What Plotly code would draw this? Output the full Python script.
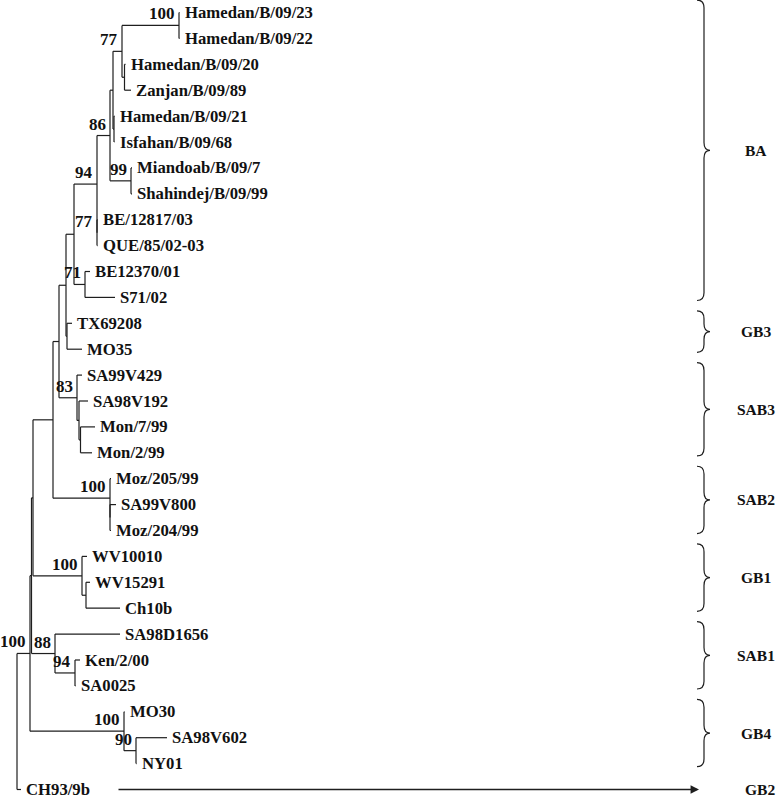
import plotly.graph_objects as go

# ---------------- data ----------------
node_ids = [
    "root", "n1", "n2", "n3", "n4", "n5", "n66", "nBA1", "n94", "n86", "na", "n77", "n100",
    "Hamedan/B/09/23", "Hamedan/B/09/22", "nHZ", "Hamedan/B/09/20", "Zanjan/B/09/89",
    "npair", "Hamedan/B/09/21", "Isfahan/B/09/68", "n99", "Miandoab/B/09/7", "Shahindej/B/09/99",
    "nBEQ", "BE/12817/03", "QUE/85/02-03", "n71", "BE12370/01", "S71/02",
    "nGB3", "TX69208", "MO35",
    "nSAB3", "SA99V429", "nSAB3b", "SA98V192", "nMon", "Mon/7/99", "Mon/2/99",
    "nSAB2", "Moz/205/99", "nSAB2b", "SA99V800", "Moz/204/99",
    "nGB1", "WV10010", "nGB1b", "WV15291", "Ch10b",
    "n88", "SA98D1656", "n94b", "Ken/2/00", "SA0025",
    "nGB4", "MO30", "n90", "SA98V602", "NY01",
    "CH93/9b",
]
node_parents = [
    None, "root", "n1", "n2", "n3", "n4", "n5", "n66", "nBA1", "n94", "n86", "na", "n77",
    "n100", "n100", "n77", "nHZ", "nHZ",
    "na", "npair", "npair", "n86", "n99", "n99",
    "n94", "nBEQ", "nBEQ", "nBA1", "n71", "n71",
    "n66", "nGB3", "nGB3",
    "n5", "nSAB3", "nSAB3", "nSAB3b", "nSAB3b", "nMon", "nMon",
    "n4", "nSAB2", "nSAB2", "nSAB2b", "nSAB2b",
    "n3", "nGB1", "nGB1", "nGB1b", "nGB1b",
    "n2", "n88", "n88", "n94b", "n94b",
    "n1", "nGB4", "nGB4", "n90", "n90",
    "root",
]
branch_lengths = [
    0.0, 0.0130, 0.0015, 0.0015, 0.0200, 0.0060, 0.0070, 0.0080, 0.0230, 0.0130, 0.0030, 0.0090, 0.0570,
    0.0005, 0.0005, 0.0025, 0.0010, 0.0065,
    0.0010, 0.0005, 0.0005, 0.0210, 0.0010, 0.0010,
    0.0000, 0.0005, 0.0005, 0.0110, 0.0050, 0.0300,
    0.0010, 0.0050, 0.0150,
    0.0180, 0.0050, 0.0020, 0.0090, 0.0015, 0.0145, 0.0115,
    0.0570, 0.0010, 0.0000, 0.0060, 0.0010,
    0.0490, 0.0050, 0.0040, 0.0040, 0.0340,
    0.0235, 0.0650, 0.0200, 0.0050, 0.0005,
    0.0940, 0.0005, 0.0120, 0.0310, 0.0005,
    0.0040,
]
support_values = [
    "", "100", "", "", "", "", "", "", "94", "86", "", "77", "100",
    "", "", "", "", "",
    "", "", "", "99", "", "",
    "77", "", "", "71", "", "",
    "", "", "",
    "83", "", "", "", "", "", "",
    "100", "", "", "", "",
    "100", "", "", "", "",
    "88", "", "94", "", "",
    "100", "", "90", "", "",
    "",
]

clade_names = ["BA", "GB3", "SAB3", "SAB2", "GB1", "SAB1", "GB4"]
clade_first = ["Hamedan/B/09/23", "TX69208", "SA99V429", "Moz/205/99", "WV10010", "SA98D1656", "MO30"]
clade_last = ["S71/02", "MO35", "Mon/2/99", "Moz/204/99", "Ch10b", "SA0025", "NY01"]
outgroup_clade = "GB2"
outgroup_leaf = "CH93/9b"

# ---------------- layout of the tree ----------------
children = {n: [] for n in node_ids}
for n, p in zip(node_ids, node_parents):
    if p is not None:
        children[p].append(n)
blen = dict(zip(node_ids, branch_lengths))
support = dict(zip(node_ids, support_values))
parent = dict(zip(node_ids, node_parents))

xpos, ypos, leaves = {}, {}, []


def place(n, x0):
    x = x0 + blen[n]
    xpos[n] = x
    if not children[n]:
        ypos[n] = len(leaves)
        leaves.append(n)
    else:
        for c in children[n]:
            place(c, x)
        ypos[n] = (ypos[children[n][0]] + ypos[children[n][-1]]) / 2.0


place("root", 0.0)

ex, ey = [], []
for n in node_ids:
    p = parent[n]
    if p is not None:
        ex += [xpos[p], xpos[n], None]
        ey += [ypos[n], ypos[n], None]
    if children[n]:
        ex += [xpos[n], xpos[n], None]
        ey += [ypos[children[n][0]], ypos[children[n][-1]], None]

LINE = "#1e1e1e"
SERIF = "Liberation Serif, Times New Roman, serif"

fig = go.Figure()
fig.add_trace(go.Scatter(x=ex, y=ey, mode="lines", line=dict(color=LINE, width=1.2),
                         hoverinfo="skip", showlegend=False))

ann = []
for n in leaves:
    ann.append(dict(x=xpos[n], y=ypos[n], xref="x", yref="y", text="<b>%s</b>" % n,
                    showarrow=False, xanchor="left", yanchor="middle", xshift=3,
                    font=dict(family=SERIF, size=16.7, color="#111")))
for n in node_ids:
    if support[n]:
        ann.append(dict(x=xpos[n], y=ypos[n], xref="x", yref="y", text="<b>%s</b>" % support[n],
                        showarrow=False, xanchor="right", yanchor="bottom", xshift=-2, yshift=0,
                        font=dict(family=SERIF, size=17, color="#111")))

# brackets
X0, XM, X1 = 697 / 777, 704 / 777, 710 / 777
R = 0.3
shapes = []
for name, a, b in zip(clade_names, clade_first, clade_last):
    top = ypos[a] - 0.48
    bot = ypos[b] + 0.12
    mid = (top + bot) / 2
    path = (f"M {X0},{top} Q {XM},{top} {XM},{top + R} L {XM},{mid - R} "
            f"Q {XM},{mid} {X1},{mid} Q {XM},{mid} {XM},{mid + R} "
            f"L {XM},{bot - R} Q {XM},{bot} {X0},{bot}")
    shapes.append(dict(type="path", path=path, xref="paper", yref="y",
                       line=dict(color=LINE, width=1.2)))
    ann.append(dict(x=756 / 777, y=mid, xref="paper", yref="y", text="<b>%s</b>" % name,
                    showarrow=False, xanchor="center", yanchor="middle",
                    font=dict(family=SERIF, size=15.5, color="#111")))

# arrow to GB2
ann.append(dict(x=699 / 777, y=ypos[outgroup_leaf], xref="paper", yref="y", text="",
                showarrow=True, ax=-582, ay=0, arrowhead=2, arrowsize=1.3, arrowwidth=1.3,
                arrowcolor=LINE))
ann.append(dict(x=760 / 777, y=ypos[outgroup_leaf], xref="paper", yref="y",
                text="<b>%s</b>" % outgroup_clade, showarrow=False, xanchor="center",
                yanchor="middle", font=dict(family=SERIF, size=15.5, color="#111")))

fig.update_layout(
    width=777, height=798, autosize=False,
    margin=dict(l=0, r=0, t=0, b=0),
    paper_bgcolor="white", plot_bgcolor="white",
    xaxis=dict(range=[-0.017, 0.760], visible=False, fixedrange=True),
    yaxis=dict(range=[(798 - 12.5) / 25.9, -12.5 / 25.9], visible=False, fixedrange=True),
    annotations=ann, shapes=shapes,
)
fig.write_html("out.html", config={"displayModeBar": False},
               post_script="document.body.style.margin='0px';")
